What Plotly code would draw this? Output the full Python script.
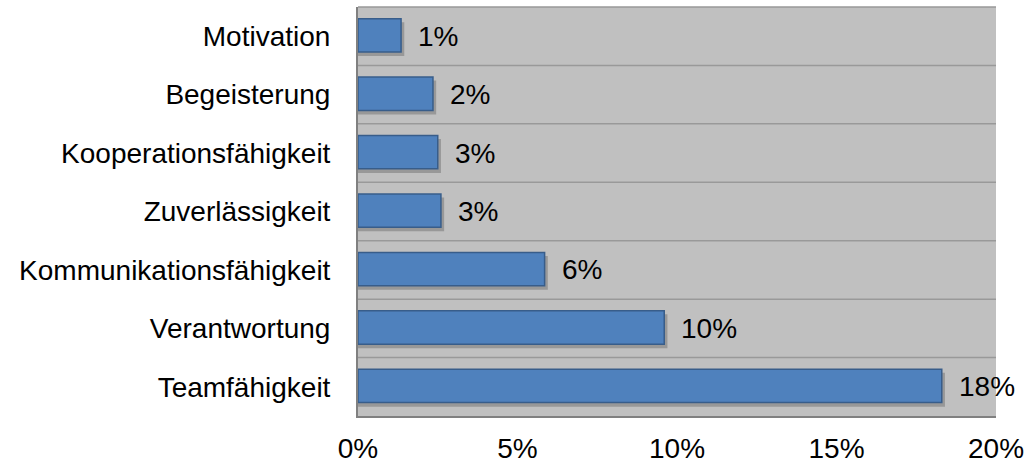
import plotly.graph_objects as go

categories = ["Motivation", "Begeisterung", "Kooperationsfähigkeit", "Zuverlässigkeit",
              "Kommunikationsfähigkeit", "Verantwortung", "Teamfähigkeit"]
values = [1.35, 2.35, 2.5, 2.6, 5.85, 9.6, 18.3]
labels = ["1%", "2%", "3%", "3%", "6%", "10%", "18%"]
tick_vals = [0, 5, 10, 15, 20]
tick_text = ["0%", "5%", "10%", "15%", "20%"]

FONT = "Liberation Sans, Arial, sans-serif"
FS = 28

fig = go.Figure()
# soft shadow
fig.add_trace(go.Bar(
    y=categories, x=[v + 0.1 for v in values], orientation="h",
    width=0.58, offset=-0.24,
    marker=dict(color="rgba(60,60,60,0.3)", line=dict(width=0)),
    hoverinfo="skip", showlegend=False))
fig.add_trace(go.Bar(
    y=categories, x=values, orientation="h",
    width=0.57, offset=-0.3,
    marker=dict(color="#4F81BD", line=dict(color="#385D8A", width=1.5)),
    showlegend=False))

for c, v, t in zip(categories, values, labels):
    fig.add_annotation(x=v, y=c, text=t, showarrow=False, xanchor="left",
                       xshift=15, font=dict(family=FONT, size=FS, color="#000000"))

for i in range(1, len(categories)):
    fig.add_shape(type="line", xref="paper", x0=0, x1=1, yref="y",
                  y0=i - 0.5, y1=i - 0.5, line=dict(color="#999999", width=1.5), layer="below")
fig.add_shape(type="line", xref="paper", x0=0, x1=1, yref="paper", y0=1, y1=1,
              line=dict(color="#999999", width=1.5), layer="below")

fig.update_layout(
    width=1026, height=463,
    margin=dict(l=358, r=30, t=7, b=47),
    plot_bgcolor="#C0C0C0", paper_bgcolor="#FFFFFF",
    barmode="overlay",
    font=dict(family=FONT, size=FS, color="#000000"),
    xaxis=dict(range=[0, 20], tickvals=tick_vals, ticktext=tick_text, showgrid=False,
               zeroline=False, showline=True, linecolor="#808080", linewidth=2,
               ticks="", ticklabelstandoff=6, tickfont=dict(size=FS), automargin=False),
    yaxis=dict(autorange="reversed", showgrid=False, showline=True, linecolor="#808080",
               linewidth=2, ticks="", ticklabelstandoff=20, tickfont=dict(size=FS),
               automargin=False),
)

fig.write_html("out.html")
